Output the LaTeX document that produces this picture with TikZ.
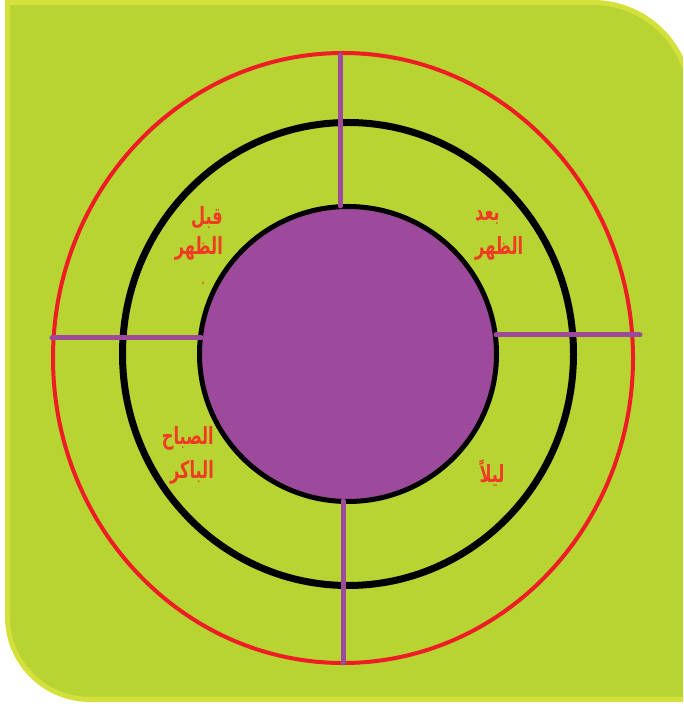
\documentclass[tikz,border=0pt]{standalone}
\usepackage{fontspec}
\newfontfamily\arabicfont[Script=Arabic]{DejaVu Sans}
\TeXXeTstate=1
\definecolor{bgfill}{HTML}{B8D432}
\definecolor{bgedge}{HTML}{D4E03C}
\definecolor{ringred}{HTML}{EE1C24}
\definecolor{core}{HTML}{9D4A9C}
\definecolor{txtred}{HTML}{F03A24}
\newcommand{\artxt}[1]{\scalebox{0.85}[1.25]{\beginR #1\endR}}
\tikzset{
  spoke/.style={draw=core, line width=5pt, line cap=round},
  lbl/.style={text=txtred, font=\arabicfont\bfseries\fontsize{19}{22}\selectfont, inner sep=0pt}
}
\begin{document}
\begin{tikzpicture}[x=1pt,y=1pt]
\useasboundingbox (0,0) rectangle (683,704);
\clip (0,0) rectangle (683,704);
% background card
\path[fill=bgfill, draw=bgedge, line width=5pt]
  (7.5,701.5) -- (593,701.5) arc[start angle=90, end angle=0, radius=97]
  -- (690,4.5) -- (90,4.5) arc[start angle=270, end angle=180, radius=82.5] -- cycle;
% rings
\draw[ringred, line width=4pt] (343,346) ellipse [x radius=290pt, y radius=305pt];
\draw[black, line width=7pt] (348,350) ellipse [x radius=225.5pt, y radius=231.5pt];
\draw[black, line width=5pt, fill=core] (348,350) ellipse [x radius=148.5pt, y radius=147.5pt];
% spoke end points
\coordinate (t1) at (340,649);
\coordinate (t2) at (340,498);
\coordinate (b1) at (343,203);
\coordinate (b2) at (343,41);
\coordinate (l1) at (52,366);
\coordinate (l2) at (201,366);
\coordinate (r1) at (496,369);
\coordinate (r2) at (640,369);
\draw[spoke] (t1) -- (t2);
\draw[spoke] (b1) -- (b2);
\draw[spoke] (l1) -- (l2);
\draw[spoke] (r1) -- (r2);
% labels
\node[lbl, anchor=east] (q1) at (223,486) {\artxt{قبل}};
\node[lbl, anchor=east] (q2) at (223,456) {\artxt{الظهر}};
\fill[txtred] (203,421) circle (1pt);
\node[lbl, anchor=west] (a1) at (475,486) {\artxt{بعد}};
\node[lbl, anchor=west] (a2) at (475,456) {\artxt{الظهر}};
\node[lbl, anchor=east] (s1) at (214,266) {\artxt{الصباح}};
\node[lbl, anchor=east] (s2) at (214,232) {\artxt{الباكر}};
\node[lbl] (n1) at (492,231) {\artxt{ليلاً}};
\end{tikzpicture}
\end{document}
